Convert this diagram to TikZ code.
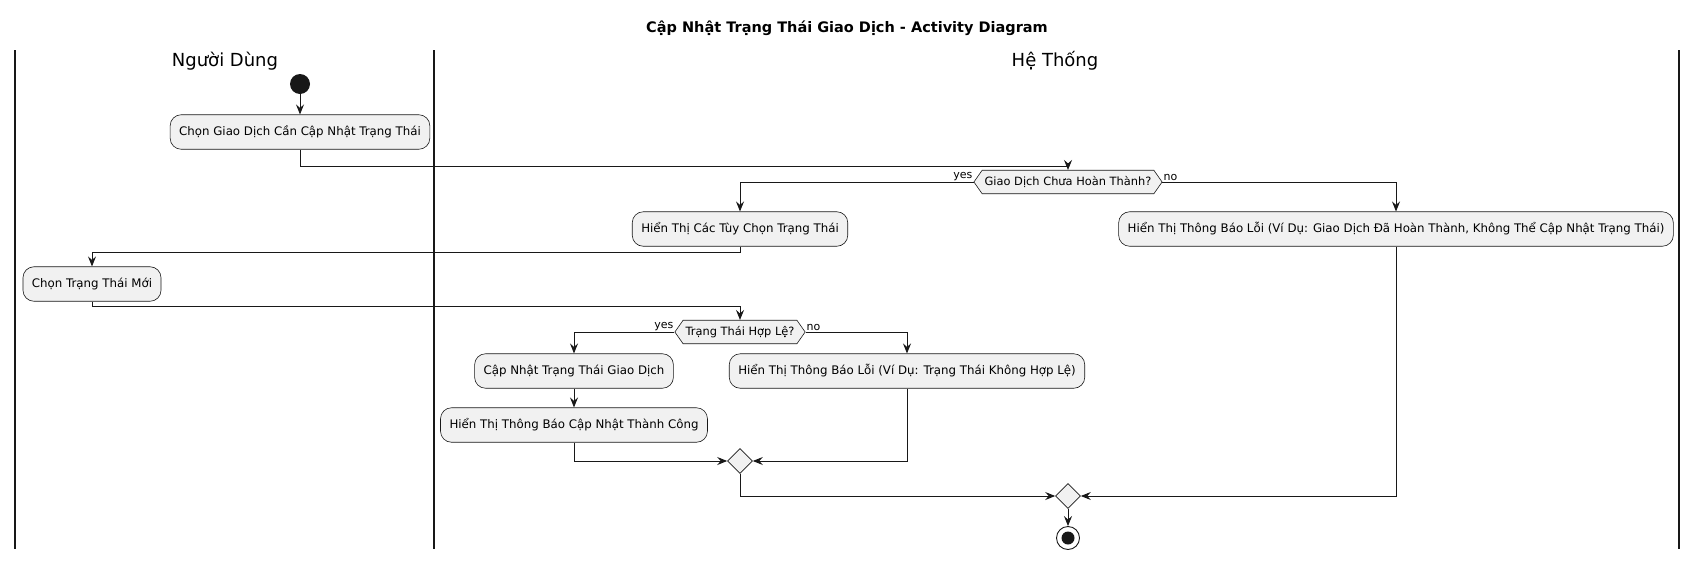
\documentclass[tikz,border=0pt]{standalone}
\usepackage{fontspec}
\setmainfont{DejaVu Sans}
\usetikzlibrary{shapes.geometric,shapes.symbols,arrows.meta}
\definecolor{boxgray}{HTML}{F1F1F1}
\definecolor{linecol}{HTML}{181818}
\begin{document}
\begin{tikzpicture}[x=1pt,y=-1pt,
 act/.style={draw=linecol, fill=boxgray, rounded corners=11pt, minimum height=34.5pt, inner xsep=9pt, font=\fontsize{11.8}{13}\selectfont, line width=0.6pt},
 hexa/.style={signal, signal to=west and east, signal pointer angle=110, draw=linecol, fill=boxgray, minimum height=23.5pt, inner xsep=2.5pt, inner ysep=2pt, font=\fontsize{11.4}{12}\selectfont, line width=0.6pt},
 merge/.style={diamond, draw=linecol, fill=boxgray, minimum size=25pt, inner sep=0pt, line width=0.6pt},
 arr/.style={-{Stealth[length=10pt,width=8pt,inset=3.5pt]}, line width=0.9pt, draw=linecol},
 lane/.style={line width=1.3pt, draw=linecol},
 lbl/.style={font=\fontsize{11}{12}\selectfont, inner sep=1pt},
 lanetitle/.style={font=\fontsize{18}{20}\selectfont}
]
\useasboundingbox (0,0) rectangle (1697,560);
% title
\node[font=\bfseries\fontsize{14.5}{16}\selectfont] (title) at (847,28) {Cập Nhật Trạng Thái Giao Dịch - Activity Diagram};
% swimlanes
\coordinate (l1t) at (15,50); \coordinate (l1b) at (15,549);
\coordinate (l2t) at (434,50); \coordinate (l2b) at (434,549);
\coordinate (l3t) at (1679,50); \coordinate (l3b) at (1679,549);
\draw[lane] (l1t) -- (l1b);
\draw[lane] (l2t) -- (l2b);
\draw[lane] (l3t) -- (l3b);
\node[lanetitle] (lt1) at (225,61) {Người Dùng};
\node[lanetitle] (lt2) at (1055,61) {Hệ Thống};
% nodes
\node[circle, fill=linecol, minimum size=20pt, inner sep=0pt] (start) at (300,84) {};
\node[act] (b1) at (300,132) {Chọn Giao Dịch Cần Cập Nhật Trạng Thái};
\node[hexa] (h1) at (1068,182) {Giao Dịch Chưa Hoàn Thành?};
\node[act] (y1) at (740,229) {Hiển Thị Các Tùy Chọn Trạng Thái};
\node[act] (n1) at (1396,229) {Hiển Thị Thông Báo Lỗi (Ví Dụ: Giao Dịch Đã Hoàn Thành, Không Thể Cập Nhật Trạng Thái)};
\node[act] (b2) at (92,284) {Chọn Trạng Thái Mới};
\node[hexa] (h2) at (740,332) {Trạng Thái Hợp Lệ?};
\node[act] (u1) at (574,371) {Cập Nhật Trạng Thái Giao Dịch};
\node[act] (u2) at (574,425) {Hiển Thị Thông Báo Cập Nhật Thành Công};
\node[act] (n2) at (907,371) {Hiển Thị Thông Báo Lỗi (Ví Dụ: Trạng Thái Không Hợp Lệ)};
\node[merge] (m1) at (740,461) {};
\node[merge] (m2) at (1068,496) {};
\node[circle, draw=linecol, line width=0.9pt, fill=white, minimum size=23pt, inner sep=0pt] (end) at (1068,538) {};
\fill[linecol] (end.center) circle (6.5pt);
% routing coordinates
\coordinate (r1) at (0,166);
\coordinate (r2) at (0,252);
\coordinate (r3) at (0,306);
% connectors
\draw[arr] (start) -- (b1);
\draw[arr] (b1.south) -- (b1.south |- r1) -| (h1.north);
\draw[arr] (h1.west) -| (y1.north);
\draw[arr] (h1.east) -| (n1.north);
\node[lbl, anchor=south east] (yes1) at (h1.west) {yes};
\node[lbl, anchor=south west] (no1) at (h1.east) {no};
\draw[arr] (y1.south) -- (y1.south |- r2) -| (b2.north);
\draw[arr] (b2.south) -- (b2.south |- r3) -| (h2.north);
\draw[arr] (h2.west) -| (u1.north);
\draw[arr] (h2.east) -| (n2.north);
\node[lbl, anchor=south east] (yes2) at (h2.west) {yes};
\node[lbl, anchor=south west] (no2) at (h2.east) {no};
\draw[arr] (u1) -- (u2);
\draw[arr] (u2.south) |- (m1.west);
\draw[arr] (n2.south) |- (m1.east);
\draw[arr] (m1.south) |- (m2.west);
\draw[arr] (n1.south) |- (m2.east);
\draw[arr] (m2) -- (end);
\end{tikzpicture}
\end{document}
